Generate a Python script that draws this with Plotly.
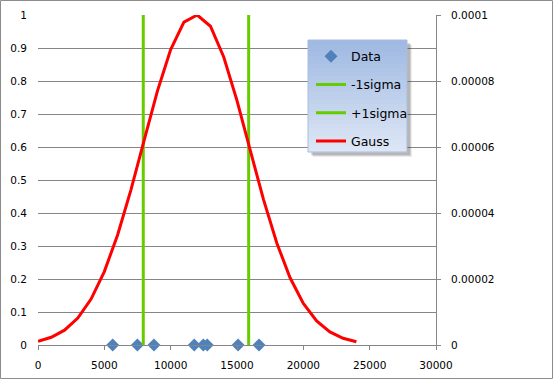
import plotly.graph_objects as go

# ---- data ----
data_x = [5630, 7490, 8740, 11780, 12460, 12760, 15080, 16660]
data_y = [0, 0, 0, 0, 0, 0, 0, 0]

minus_sigma_x = [7935, 7935]
plus_sigma_x = [15880, 15880]
sigma_y = [0, 1]

gauss_x = [0, 1000, 2000, 3000, 4000, 5000, 6000, 7000, 8000, 9000, 10000, 11000,
           12000, 13000, 14000, 15000, 16000, 17000, 18000, 19000, 20000, 21000,
           22000, 23000, 24000]
gauss_y = [1.14e-6, 2.34e-6, 4.5e-6, 8.18e-6, 1.393e-5, 2.225e-5, 3.336e-5, 4.695e-5,
           6.202e-5, 7.692e-5, 8.953e-5, 9.782e-5, 1.0e-4, 9.659e-5, 8.728e-5,
           7.405e-5, 5.896e-5, 4.407e-5, 3.091e-5, 2.036e-5, 1.259e-5, 7.3e-6,
           3.98e-6, 2.03e-6, 9.8e-7]

right_ticks = [0, 0.00002, 0.00004, 0.00006, 0.00008, 0.0001]
right_labels = ["0", "0.00002", "0.00004", "0.00006", "0.00008", "0.0001"]

# ---- geometry ----
W, H = 553, 380
L, R, T, B = 38, 436, 15, 345
def px(x):
    return (x - L) / (R - L)
def py(y):
    return (B - y) / (B - T)

FONT = "DejaVu Sans"
GRID = "#868686"

fig = go.Figure()
fig.add_trace(go.Scatter(x=data_x, y=data_y, mode="markers", name="Data",
                         marker=dict(symbol="diamond", size=10, color="#4f81bd"),
                         legendgroup="a", cliponaxis=False))
fig.add_trace(go.Scatter(x=minus_sigma_x, y=sigma_y, mode="lines", name="-1sigma",
                         line=dict(color="#66cc00", width=3), legendgroup="b"))
fig.add_trace(go.Scatter(x=plus_sigma_x, y=sigma_y, mode="lines", name="+1sigma",
                         line=dict(color="#66cc00", width=3), legendgroup="c"))
fig.add_trace(go.Scatter(x=gauss_x, y=gauss_y, mode="lines", name="Gauss",
                         line=dict(color="#ff0000", width=3), yaxis="y2",
                         legendgroup="d", cliponaxis=False))

shapes = []
# outer chart border
shapes.append(dict(type="rect", xref="paper", yref="paper",
                   x0=px(0.5), x1=px(552.5), y0=py(378.5), y1=py(0.5),
                   line=dict(color="#8c8c8c", width=1), layer="below"))
# legend shadow
lx0, lx1, ly0, ly1 = 308, 407, 40, 152
for i, a in enumerate([0.10, 0.14, 0.18]):
    o = 5 - i
    shapes.append(dict(type="rect", xref="paper", yref="paper",
                       x0=px(lx0 + o), x1=px(lx1 + o), y0=py(ly1 + o), y1=py(ly0 + o),
                       fillcolor=f"rgba(60,60,60,{a})", line=dict(width=0), layer="above"))
# legend gradient background
top_c = (0x9f, 0xb9, 0xe2)
bot_c = (0xdd, 0xe6, 0xf5)
n = 28
for i in range(n):
    t = i / (n - 1)
    c = tuple(int(round(top_c[k] + (bot_c[k] - top_c[k]) * t)) for k in range(3))
    y0 = ly0 + (ly1 - ly0) * i / n
    y1 = ly0 + (ly1 - ly0) * (i + 1) / n
    shapes.append(dict(type="rect", xref="paper", yref="paper",
                       x0=px(lx0), x1=px(lx1), y0=py(y1 + 0.3), y1=py(y0),
                       fillcolor=f"rgb{c}", line=dict(width=0), layer="above"))
shapes.append(dict(type="rect", xref="paper", yref="paper",
                   x0=px(lx0), x1=px(lx1), y0=py(ly1), y1=py(ly0),
                   line=dict(color="#a9bde0", width=1), layer="above"))

fig.update_layout(
    width=W, height=H,
    margin=dict(l=L, r=W - R, t=T, b=H - B, autoexpand=False),
    paper_bgcolor="white", plot_bgcolor="white",
    font=dict(family=FONT, size=10.5, color="#000000"),
    showlegend=True,
    legend=dict(x=px(lx0 + 3), y=py(ly0 + 1.5), xanchor="left", yanchor="top",
                bgcolor="rgba(0,0,0,0)", borderwidth=0,
                font=dict(family=FONT, size=12.5, color="#000000"),
                tracegroupgap=9, itemwidth=30),
    xaxis=dict(range=[0, 30000], dtick=5000, tick0=0, showgrid=False,
               showline=True, linecolor=GRID, linewidth=1,
               ticks="outside", ticklen=4, tickcolor=GRID, tickformat="d",
               ticklabelstandoff=6, zeroline=False, automargin=False),
    yaxis=dict(range=[0, 1], dtick=0.1, tick0=0, showgrid=True, gridcolor=GRID,
               gridwidth=1, showline=False, ticks="", zeroline=False,
               ticklabelstandoff=10, automargin=False),
    yaxis2=dict(range=[0, 0.0001], overlaying="y", side="right",
                tickvals=right_ticks, ticktext=right_labels,
                showgrid=False, showline=True, linecolor=GRID, linewidth=1,
                ticks="outside", ticklen=4, tickcolor=GRID, zeroline=False,
                ticklabelstandoff=8, automargin=False),
    shapes=shapes,
)

fig.write_html("out.html", config={"displayModeBar": False},
               post_script="document.body.style.margin='0';document.body.style.padding='0';")
